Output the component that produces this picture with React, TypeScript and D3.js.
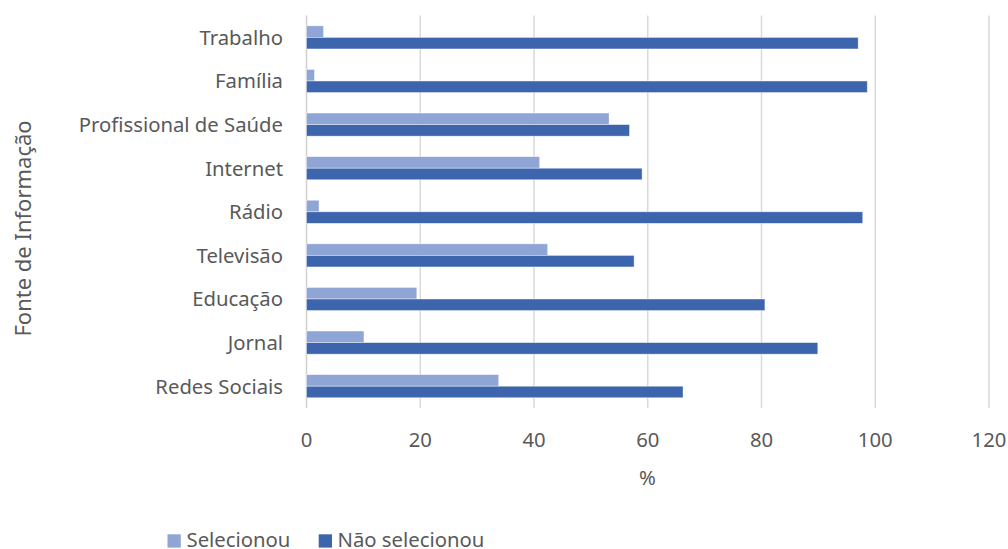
import React from "react";
import * as d3 from "d3";

const categories = [
  "Trabalho",
  "Família",
  "Profissional de Saúde",
  "Internet",
  "Rádio",
  "Televisão",
  "Educação",
  "Jornal",
  "Redes Sociais",
];
const selecionou = [3.0, 1.4, 53.2, 41.0, 2.2, 42.4, 19.4, 10.1, 33.8];
const naoSelecionou = [97.0, 98.6, 56.8, 59.0, 97.8, 57.6, 80.6, 89.9, 66.2];
const xTicks = [0, 20, 40, 60, 80, 100, 120];
const seriesNames = ["Selecionou", "Não selecionou"];
const colors = ["#8FA5D5", "#3D65AD"];

const W = 1008;
const H = 549;
const FONT = "'Noto Sans', sans-serif";
const TXT = "#595959";
const FS = 20.3;

export default function App() {
  const x = d3.scaleLinear().domain([0, 120]).range([306.5, 989]);
  const y = d3
    .scaleBand<string>()
    .domain(categories)
    .range([15.6, 408])
    .paddingInner(0.47)
    .paddingOuter(0.235);
  const inner = d3
    .scaleBand<string>()
    .domain(seriesNames)
    .range([0, y.bandwidth()]);
  const series = [selecionou, naoSelecionou];

  return (
    <svg
      width={W}
      height={H}
      style={{ position: "absolute", left: 0, top: 0, background: "#fff" }}
      fontFamily={FONT}
    >
      {xTicks.map((t) => (
        <line
          key={"g" + t}
          x1={x(t)}
          x2={x(t)}
          y1={15.6}
          y2={408}
          stroke={t === 0 ? "#d0d0d0" : "#d9d9d9"}
          strokeWidth={1.5}
        />
      ))}
      {categories.map((c, i) =>
        series.map((s, k) => (
          <rect
            key={c + k}
            x={x(0)}
            y={(y(c) as number) + (inner(seriesNames[k]) as number)}
            width={x(s[i]) - x(0)}
            height={inner.bandwidth()}
            fill={colors[k]}
            stroke="#ffffff"
            strokeOpacity={0.6}
            strokeWidth={0.7}
          />
        ))
      )}
      {categories.map((c) => (
        <text
          key={"l" + c}
          x={283}
          y={(y(c) as number) + y.bandwidth() / 2}
          dy="0.36em"
          textAnchor="end"
          fontSize={FS}
          fill={TXT}
        >
          {c}
        </text>
      ))}
      {xTicks.map((t) => (
        <text
          key={"t" + t}
          x={x(t)}
          y={447}
          textAnchor="middle"
          fontSize={FS}
          fill={TXT}
        >
          {t}
        </text>
      ))}
      <text x={647.5} y={477.5} dy="0.35em" textAnchor="middle" fontSize={FS} fill={TXT}>
        %
      </text>
      <text
        transform={`translate(23.5,228.5) rotate(-90)`}
        textAnchor="middle"
        dy="0.36em"
        fontSize={22}
        fill={TXT}
      >
        Fonte de Informação
      </text>
      <g>
        <rect x={167.5} y={534.3} width={13.3} height={13.3} fill={colors[0]} />
        <text x={186.5} y={546.5} fontSize={FS} fill={TXT}>
          {seriesNames[0]}
        </text>
        <rect x={318.7} y={534.3} width={13.3} height={13.3} fill={colors[1]} />
        <text x={337.5} y={546.5} fontSize={FS} fill={TXT}>
          {seriesNames[1]}
        </text>
      </g>
    </svg>
  );
}
